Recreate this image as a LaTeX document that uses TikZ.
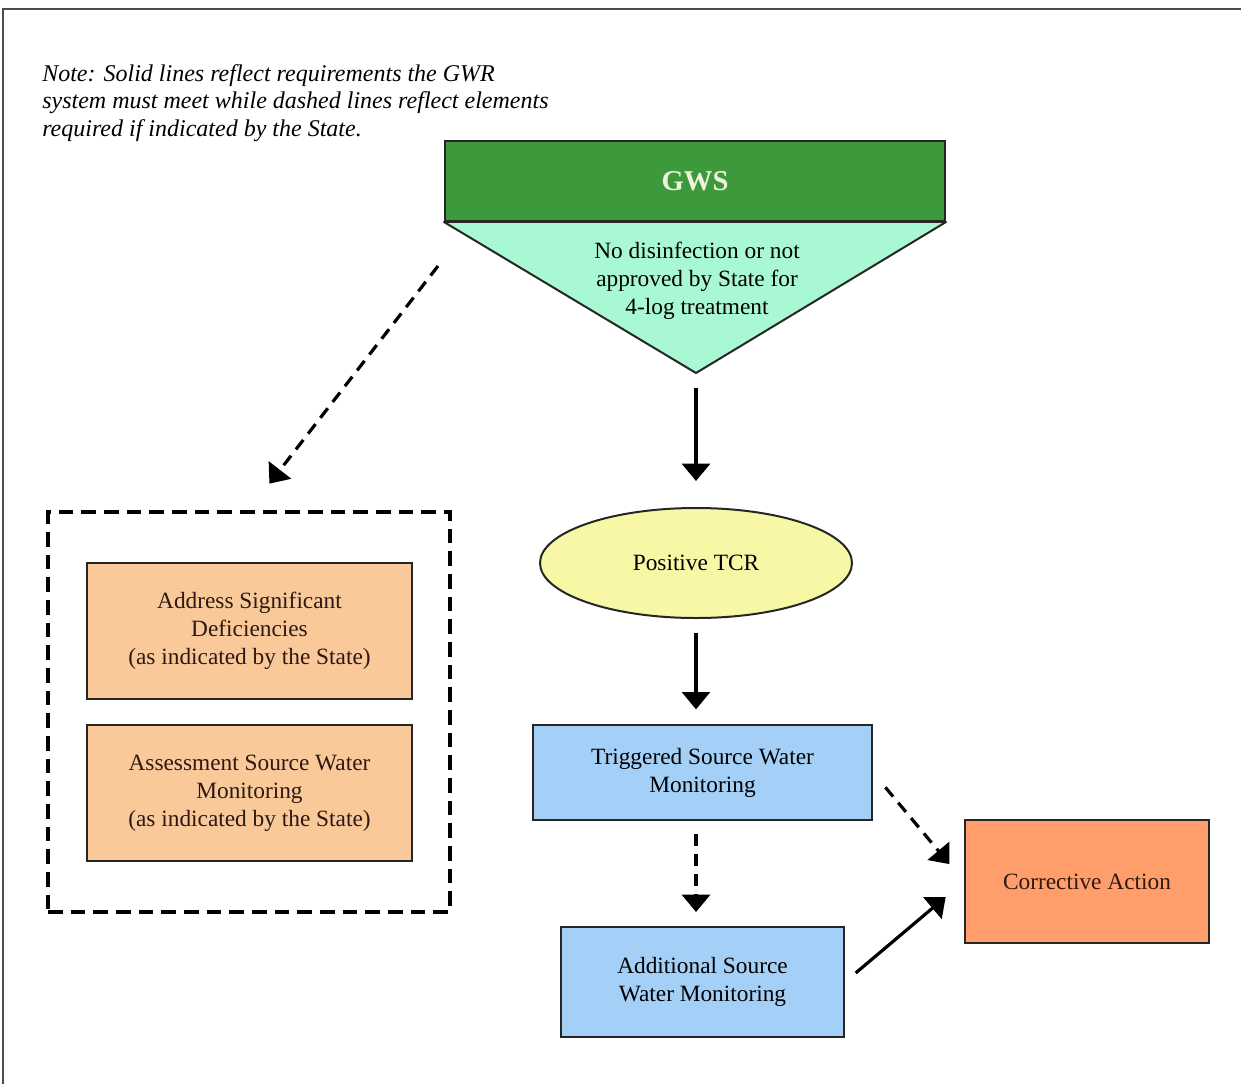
\documentclass[tikz,border=0pt]{standalone}
\usepackage{fontspec}
\setmainfont{Liberation Serif}
\usetikzlibrary{shapes,arrows.meta,positioning}
\definecolor{gwsgreen}{HTML}{3C9A3C}
\definecolor{gwstext}{HTML}{F2F2DC}
\definecolor{gwsmint}{HTML}{A8F8D4}
\definecolor{tcryellow}{HTML}{F7F7A6}
\definecolor{skyblue}{HTML}{A4CFF7}
\definecolor{peach}{HTML}{F9C999}
\definecolor{coral}{HTML}{FF9E6B}
\definecolor{inkbrown}{HTML}{2E1812}

\tikzset{
  chartbox/.style={draw=black!85, line width=1.5pt, align=center, inner sep=2pt, font=\fontsize{17.5}{21}\selectfont},
  solidarrow/.style={line width=2.4pt, -{Triangle[length=13pt,width=21pt]}},
  dasharrow/.style={solidarrow, dash pattern=on 9pt off 6pt},
}

\begin{document}
\begin{tikzpicture}[x=0.75pt,y=0.75pt,yscale=-1,xscale=1]
    \useasboundingbox (0,0) rectangle (1241,1084);
    % frame
    \draw [line width=1.6pt, black!70] (3,1100) -- (3,9) -- (1250,9);

    % note
    \node (note) [anchor=north west, inner sep=0pt, align=left, font=\itshape\fontsize{18}{20.6}\selectfont] at (42,64) {Note: Solid lines reflect requirements the GWR\\ system must meet while dashed lines reflect elements\\ required if indicated by the State.};

    % GWS with condition triangle
    \node (gws) [chartbox, fill=gwsgreen, minimum width=375pt, minimum height=60pt, text=gwstext, font=\bfseries\fontsize{21.5}{24}\selectfont] at (695,181) {GWS};
    \coordinate (apex) at (696,373);
    \draw [fill=gwsmint, draw=black!85, line width=1.5pt, line join=round] (gws.south west) -- (gws.south east) -- (apex) -- cycle;
    \node (cond) [align=center, font=\fontsize{17.5}{21}\selectfont] at (697,281) {No disinfection or not\\ approved by State for\\ 4-log treatment};

    % main path
    \node (tcr) [chartbox, ellipse, fill=tcryellow, minimum width=234pt, minimum height=82.5pt, inner sep=0pt] at (696,563) {Positive TCR};
    \node (trig) [chartbox, fill=skyblue, minimum width=254.25pt, minimum height=71.25pt] at (702.5,772.5) {Triggered Source Water\\ Monitoring};
    \node (add) [chartbox, fill=skyblue, minimum width=212.25pt, minimum height=82.5pt] at (702.5,982) {Additional Source\\ Water Monitoring};
    \node (corr) [chartbox, fill=coral, text=inkbrown, minimum width=183pt, minimum height=92.25pt] at (1087,881.5) {Corrective Action};

    % elements required by the State
    \node (optional) [draw, line width=3pt, dash pattern=on 11pt off 6pt, minimum width=301.5pt, minimum height=300pt] at (249,712) {};
    \node (address) [chartbox, fill=peach, text=inkbrown, minimum width=243.75pt, minimum height=102pt] at (249.5,631) {Address Significant\\ Deficiencies\\ (as indicated by the State)};
    \node (assess) [chartbox, fill=peach, text=inkbrown, minimum width=243.75pt, minimum height=102pt] at (249.5,793) {Assessment Source Water\\ Monitoring\\ (as indicated by the State)};

    % connectors
    \draw [solidarrow, shorten <=11pt, shorten >=19.5pt] (apex) -- (tcr.north);
    \draw [solidarrow, shorten <=10.5pt, shorten >=11pt] (tcr.south) -- (tcr.south |- trig.north);
    \draw [dasharrow, shorten <=10pt, shorten >=10.5pt] (tcr.south |- trig.south) -- (tcr.south |- add.north);
    \draw [dasharrow, shorten <=14.5pt, shorten >=17pt] (trig.east) -- (corr.west);
    \draw [solidarrow, shorten <=10.5pt, shorten >=18pt] (add.east) -- (corr.west);
    \coordinate (splitpt) at (438,266);
    \draw [dasharrow, shorten >=25pt] (splitpt) -- (optional.north);

\end{tikzpicture}
\end{document}
